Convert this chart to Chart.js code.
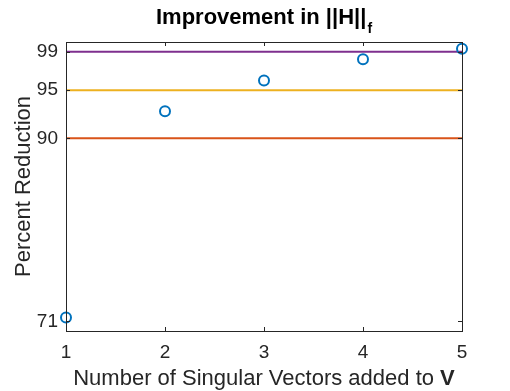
<!DOCTYPE html>
<html>
<head>
<meta charset="utf-8">
<script src="https://cdn.jsdelivr.net/npm/chart.js@4"></script>
<style>
  html, body { margin: 0; padding: 0; background: #fff; }
  #wrap { width: 510px; height: 391px; }
</style>
</head>
<body>
<div id="wrap"><canvas id="chart" width="510" height="391"></canvas></div>
<script>
// data
const vectorsAdded = [1, 2, 3, 4, 5]
const percentReduction = [71.4, 92.8, 96.0, 98.2, 99.3]
const yTickValues = [71, 90, 95, 99]
const thresholds = [90, 95, 99]
const thresholdColors = ['#D95319', '#EDB120', '#7E2F8E']

const FONT = '"Liberation Sans", Arial, Helvetica, sans-serif'
const INK = '#262626'

const points = vectorsAdded.map((x, i) => ({ x, y: percentReduction[i] }))
const xMin = vectorsAdded[0]
const xMax = vectorsAdded[vectorsAdded.length - 1]

const lineSets = thresholds.map((t, i) => ({
  type: 'line',
  data: [{ x: xMin, y: t }, { x: xMax, y: t }],
  borderColor: thresholdColors[i],
  borderWidth: 2,
  pointRadius: 0,
  fill: false,
  order: 2
}))

// box, inward ticks and titles (MATLAB look)
const matlabFrame = {
  id: 'matlabFrame',
  afterDatasetsDraw (chart) {
    const { ctx, chartArea: a, scales } = chart
    ctx.save()
    ctx.strokeStyle = INK
    ctx.lineWidth = 1
    ctx.strokeRect(Math.round(a.left) + 0.5, Math.round(a.top) + 0.5,
      Math.round(a.right - a.left), Math.round(a.bottom - a.top))
    const tl = 4
    ctx.beginPath()
    scales.x.ticks.forEach(t => {
      const px = Math.round(scales.x.getPixelForValue(t.value)) + 0.5
      ctx.moveTo(px, a.bottom); ctx.lineTo(px, a.bottom - tl)
      ctx.moveTo(px, a.top); ctx.lineTo(px, a.top + tl)
    })
    scales.y.ticks.forEach(t => {
      const py = Math.round(scales.y.getPixelForValue(t.value)) + 0.5
      ctx.moveTo(a.left, py); ctx.lineTo(a.left + tl, py)
      ctx.moveTo(a.right, py); ctx.lineTo(a.right - tl, py)
    })
    ctx.stroke()
    ctx.restore()
  },
  afterDraw (chart) {
    const { ctx, chartArea: a } = chart
    const cx = (a.left + a.right) / 2
    const cy = (a.top + a.bottom) / 2
    ctx.save()
    ctx.fillStyle = 'black'
    ctx.textBaseline = 'alphabetic'

    // title with subscript f
    const tMain = 'Improvement in ||H||'
    ctx.font = 'bold 22px ' + FONT
    const wMain = ctx.measureText(tMain).width
    ctx.font = 'bold 14px ' + FONT
    const wSub = ctx.measureText('f').width
    let x0 = cx - (wMain + wSub + 1) / 2
    ctx.font = 'bold 22px ' + FONT
    ctx.textAlign = 'left'
    ctx.fillText(tMain, x0, 24)
    ctx.font = 'bold 14px ' + FONT
    ctx.fillText('f', x0 + wMain + 1, 33)

    // x title with bold V
    ctx.fillStyle = INK
    const xt = 'Number of Singular Vectors added to '
    ctx.font = '22px ' + FONT
    const w1 = ctx.measureText(xt).width
    ctx.font = 'bold 22px ' + FONT
    const w2 = ctx.measureText('V').width
    x0 = cx - (w1 + w2) / 2
    ctx.font = '22px ' + FONT
    ctx.fillText(xt, x0, 385)
    ctx.font = 'bold 22px ' + FONT
    ctx.fillText('V', x0 + w1, 385)

    // y title
    ctx.font = '22px ' + FONT
    ctx.textAlign = 'center'
    ctx.translate(30, cy)
    ctx.rotate(-Math.PI / 2)
    ctx.fillText('Percent Reduction', 0, 0)
    ctx.restore()
  }
}

const ctx = document.getElementById('chart').getContext('2d')
new Chart(ctx, {
  type: 'scatter',
  data: {
    datasets: [
      {
        data: points,
        borderColor: '#0072BD',
        backgroundColor: 'rgba(0,0,0,0)',
        borderWidth: 2,
        pointRadius: 5,
        pointStyle: 'circle',
        clip: false,
        order: 1
      },
      ...lineSets
    ]
  },
  options: {
    responsive: false,
    animation: false,
    layout: { padding: { left: 0, right: 48, top: 42, bottom: 0 } },
    plugins: { legend: { display: false }, tooltip: { enabled: false } },
    scales: {
      x: {
        type: 'linear',
        min: xMin,
        max: xMax,
        ticks: { stepSize: 1, color: INK, font: { family: FONT, size: 19 }, padding: 10 },
        grid: { drawOnChartArea: false, drawTicks: false },
        border: { display: false },
        afterFit (scale) { scale.height = 60 }
      },
      y: {
        type: 'linear',
        min: 70,
        max: 100,
        afterBuildTicks (scale) { scale.ticks = yTickValues.map(v => ({ value: v })) },
        ticks: { color: INK, font: { family: FONT, size: 19 }, padding: 8 },
        grid: { drawOnChartArea: false, drawTicks: false },
        border: { display: false },
        afterFit (scale) { scale.width = 66 }
      }
    }
  },
  plugins: [matlabFrame]
})
</script>
</body>
</html>
